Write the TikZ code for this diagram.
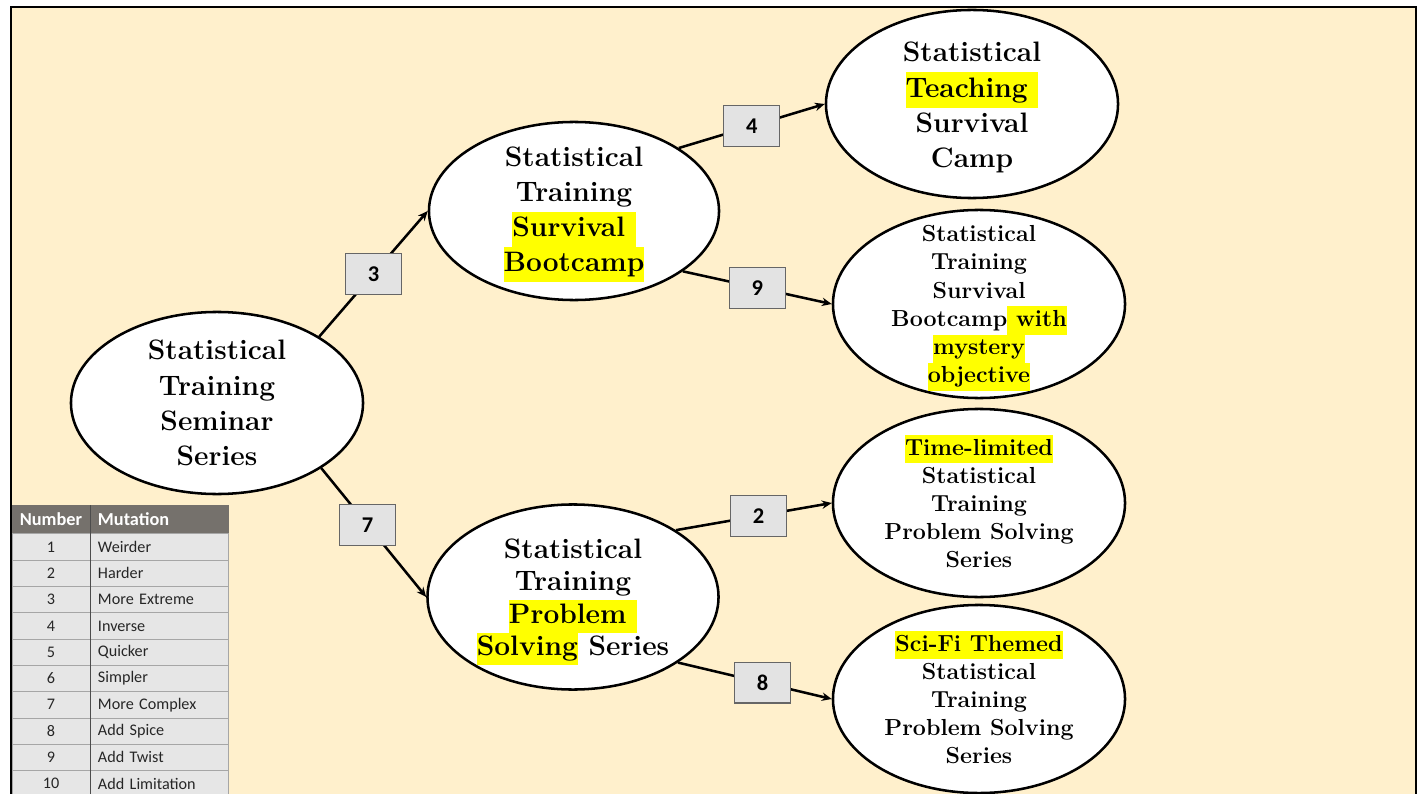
\documentclass[tikz,border=0pt]{standalone}
\usepackage{fontspec}
\usepackage{xcolor}
\usepackage{tikz}
\usetikzlibrary{shapes.geometric, arrows.meta}

\newfontfamily\calfont{Carlito}
\definecolor{cream}{HTML}{FFF0CC}
\definecolor{hiyellow}{HTML}{FFFF00}
\definecolor{boxgray}{HTML}{E3E3E3}
\definecolor{headgray}{HTML}{75716C}
\definecolor{rowgray}{HTML}{E6E6E6}
\newcommand{\hl}[1]{{\setlength{\fboxsep}{0pt}\colorbox{hiyellow}{\strut#1}}}

\begin{document}
\begin{tikzpicture}[
            x = 0.025cm, y = -0.025cm, % pixel grid
            > = {Stealth[length=7pt, width=6pt]}, % arrow head style
            bigell/.style = {shape=ellipse, draw=black, fill=white, line width=1.8pt,
                             minimum width=7.3cm, minimum height=4.55cm, inner sep=0pt},
            smallell/.style = {bigell, minimum height=4.7cm},
            bigtxt/.style = {align=center, inner sep=0pt, font=\fontsize{20}{25}\selectfont\bfseries},
            smalltxt/.style = {align=center, inner sep=0pt, font=\fontsize{16.5}{20}\selectfont\bfseries},
            numbox/.style = {shape=rectangle, draw=gray!80!black, fill=boxgray, line width=0.8pt,
                             minimum width=1.4cm, minimum height=1.02cm,
                             font=\calfont\fontsize{16}{19}\selectfont\bfseries},
            link/.style = {->, line width=1.8pt},
            cell/.style = {shape=rectangle, fill=rowgray, draw=gray!70, line width=0.5pt,
                           minimum height=0.6575cm, inner ysep=0pt, text=black!85,
                           font=\calfont\fontsize{11.5}{13}\selectfont},
            numcell/.style = {cell, minimum width=1.95cm},
            mutcell/.style = {cell, minimum width=3.45cm, text width=3.05cm, inner xsep=0.2cm, align=left},
            headcell/.style = {cell, fill=headgray, draw=headgray, text=white, minimum height=0.675cm,
                               font=\calfont\fontsize{13}{15}\selectfont\bfseries}
        ]
\useasboundingbox (0,0) rectangle (1421,794);
\fill[white] (0,0) rectangle (1421,794);
\filldraw[fill=cream, draw=black, line width=2pt] (11,7) rectangle (1416,830);

% mutation tree
\node[bigell] (root) at (217,403) {};
\node[bigell, minimum width=7.25cm, minimum height=4.45cm] (boot) at (574,211) {};
\node[bigell, minimum width=7.275cm, minimum height=4.625cm] (prob) at (573,597) {};
\node[smallell] (teach) at (972,104) {};
\node[smallell] (myst) at (979,304) {};
\node[smallell] (time) at (979,503) {};
\node[smallell] (scifi) at (979,699) {};

\node[bigtxt] (roottxt) at (root) {Statistical\\Training\\Seminar\\Series};
\node[bigtxt, yshift=-2.5pt] (boottxt) at (boot) {Statistical\\Training\\\hl{Survival\ }\\\hl{Bootcamp}};
\node[bigtxt, yshift=-3.5pt, font=\fontsize{20}{23}\selectfont\bfseries] (probtxt) at (prob)
    {Statistical\\Training\\\hl{Problem\ }\\\hl{Solving} Series};
\node[bigtxt, yshift=-2.5pt] (teachtxt) at (teach) {Statistical\\\hl{Teaching\ }\\Survival\\Camp};
\node[smalltxt, yshift=-3pt] (mysttxt) at (myst)
    {Statistical\\Training\\Survival\\Bootcamp\hl{\ with}\\\hl{mystery}\\\hl{objective}};
\node[smalltxt, yshift=1pt] (timetxt) at (time)
    {\hl{Time-limited}\\Statistical\\Training\\Problem Solving\\Series};
\node[smalltxt, yshift=1pt] (scifitxt) at (scifi)
    {\hl{Sci-Fi Themed}\\Statistical\\Training\\Problem Solving\\Series};

\draw[link] (root.33) -- node[numbox, pos=0.5] (m3) {3} (boot.west);
\draw[link] (root.-32) -- node[numbox, pos=0.44] (m7) {7} (prob.west);
\draw[link] (boot.31) -- node[numbox, pos=0.5] (m4) {4} (teach.west);
\draw[link] (boot.-29) -- node[numbox, pos=0.5] (m9) {9} (myst.west);
\draw[link] (prob.33) -- node[numbox, pos=0.53] (m2) {2} (time.west);
\draw[link] (prob.-32) -- node[numbox, pos=0.55] (m8) {8} (scifi.west);

% legend table
\node[headcell, minimum width=1.95cm] (numhead) at (51,519) {Number};
\node[headcell, minimum width=3.45cm, text width=3.05cm, inner xsep=0.2cm, align=left] (muthead) at (159,519) {Mutation};
\foreach \n/\m [count=\i] in {1/Weirder, 2/Harder, 3/More Extreme, 4/Inverse, 5/Quicker,
                              6/Simpler, 7/More Complex, 8/Add Spice, 9/Add Twist, 10/Add Limitation} {
  \node[numcell] (num\i) at (51,520.7+26.3*\i) {\n};
  \node[mutcell] (mut\i) at (159,520.7+26.3*\i) {\m};
}
\draw[line width=1pt, black!70] (numhead.north east) -- (num10.south east);
\end{tikzpicture}
\end{document}
